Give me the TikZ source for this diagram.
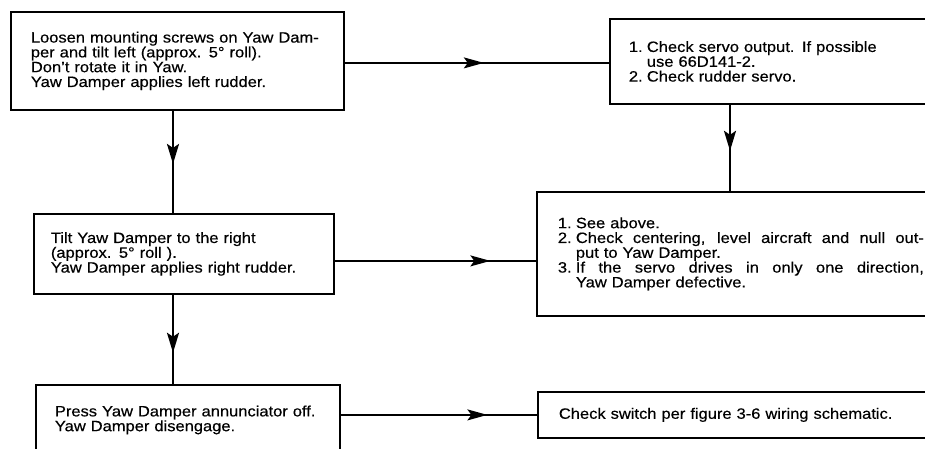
\documentclass[tikz,border=0pt]{standalone}
\usepackage{fontspec}
\setmainfont{Liberation Sans}[FakeStretch=1.1,FakeBold=0.4]
\usetikzlibrary{arrows.meta,decorations.markings}
\newcommand{\itm}[1]{\makebox[18pt][l]{#1.}}
\newcommand{\cnt}{\hspace*{18pt}}
\newcommand{\jline}[1]{\makebox[348pt][s]{\spaceskip=0pt\relax#1}}
\begin{document}
\begin{tikzpicture}[x=1pt,y=-1pt,font=\fontsize{15}{14.8}\selectfont,
 box/.style={draw,line width=1.8pt,anchor=north west,inner ysep=0pt,align=left},
 vflow/.style={line width=2.3pt,decoration={markings,mark=at position #1 with {\arrow{Stealth[length=20pt,width=12pt,inset=4pt]}}},postaction={decorate}},
 hflow/.style={line width=1.4pt,decoration={markings,mark=at position #1 with {\arrow{Stealth[length=20pt,width=11pt,inset=4pt]}}},postaction={decorate}}]
\useasboundingbox (0,0) rectangle (925,449);
\clip (0,0) rectangle (925,449);
\node[box,minimum width=333pt,minimum height=98pt,inner xsep=20pt,text width=293pt] (loosen) at (10,11)
 {Loosen mounting screws on Yaw Dam-\\per and tilt left (approx. 5° roll).\\Don't rotate it in Yaw.\\Yaw Damper applies left rudder.};
\node[box,minimum width=360pt,minimum height=85pt,inner xsep=19pt,text width=322pt] (servo) at (609,18)
 {\itm{1}Check servo output. If possible\\\cnt use 66D141-2.\\\itm{2}Check rudder servo.};
\node[box,minimum width=300pt,minimum height=80pt,inner xsep=17pt,text width=266pt] (tilt) at (33,213)
 {Tilt Yaw Damper to the right\\(approx. 5° roll ).\\Yaw Damper applies right rudder.};
\node[box,minimum width=420pt,minimum height=124pt,inner xsep=21pt,text width=378pt] (check) at (536,191)
 {\itm{1}See above.\\
  \itm{2}\jline{Check centering, level aircraft and null out-}\\
  \cnt put to Yaw Damper.\\
  \itm{3}\jline{If the servo drives in only one direction,}\\
  \cnt Yaw Damper defective.};
\node[box,minimum width=304pt,minimum height=70pt,inner xsep=19pt,text width=266pt] (press) at (35,384)
 {Press Yaw Damper annunciator off.\\Yaw Damper disengage.};
\node[box,minimum width=420pt,minimum height=46pt,inner xsep=21pt,text width=378pt] (switch) at (537,391)
 {Check switch per figure 3-6 wiring schematic.};
\coordinate (colL) at (173,0);
\coordinate (colR) at (730,0);
\foreach \a/\b/\c/\p in {loosen/tilt/colL/.52,servo/check/colR/.534,tilt/press/colL/.65}
 \draw[vflow=\p] (\a.south -| \c) -- (\b.north -| \c);
\draw[hflow=.526] ([yshift=-2pt]loosen.east) -- ([yshift=-2pt]loosen.east -| servo.west);
\draw[hflow=.773] ([yshift=-7pt]tilt.east) -- ([yshift=-7pt]tilt.east -| check.west);
\draw[hflow=.747] (switch.west -| press.east) -- (switch.west);
\end{tikzpicture}
\end{document}
